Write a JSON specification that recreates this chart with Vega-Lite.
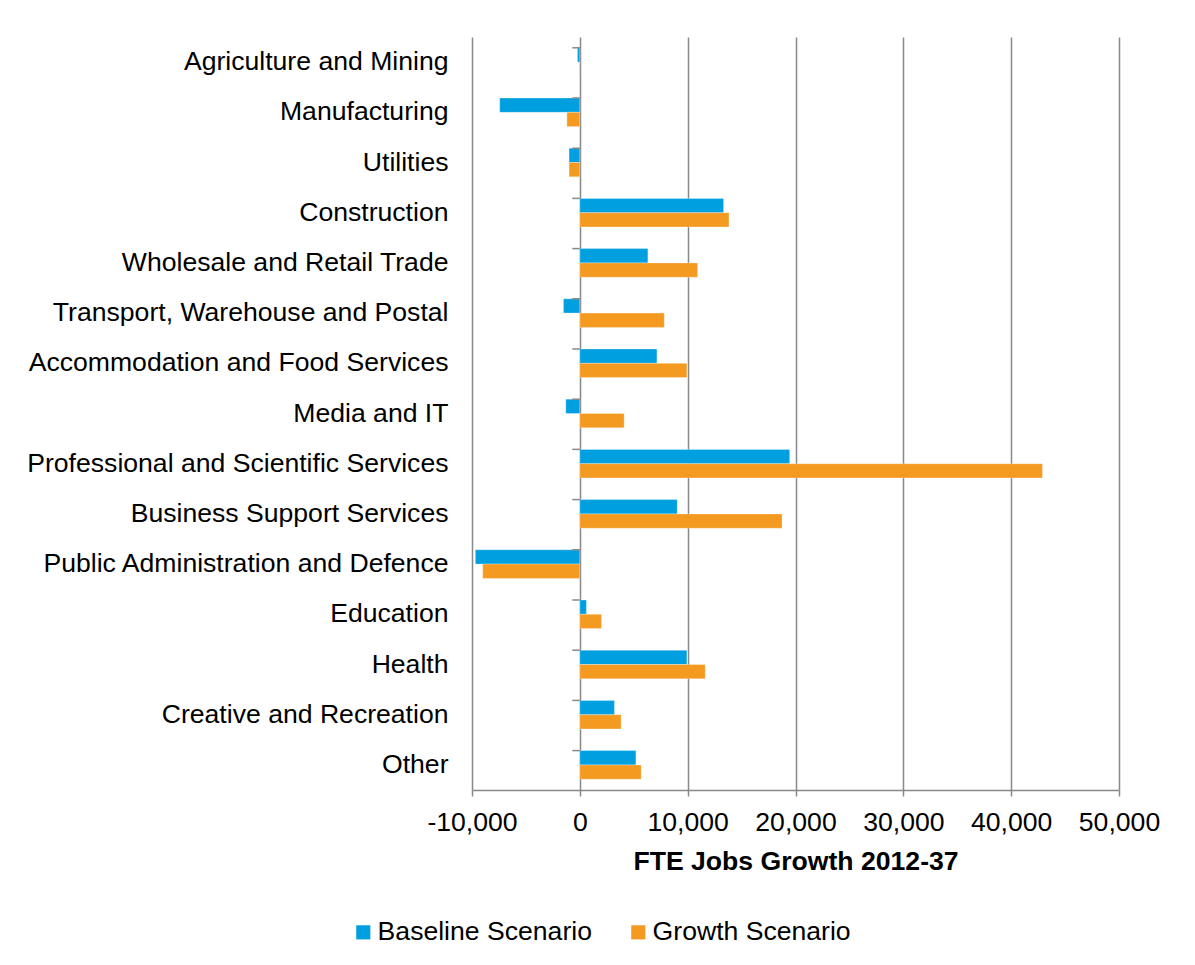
{
  "$schema": "https://vega.github.io/schema/vega-lite/v6.json",
  "width": 647,
  "height": 753,
  "autosize": {"type": "none"},
  "padding": {"left": 472, "top": 37, "right": 76, "bottom": 175},
  "background": "white",
  "config": {
    "font": "Liberation Sans",
    "view": {"stroke": null}
  },
  "datasets": {
    "jobs": [
      {"sector": "Agriculture and Mining", "scenario": "Baseline Scenario", "value": -220},
      {"sector": "Agriculture and Mining", "scenario": "Growth Scenario", "value": -50},
      {"sector": "Manufacturing", "scenario": "Baseline Scenario", "value": -7430},
      {"sector": "Manufacturing", "scenario": "Growth Scenario", "value": -1200},
      {"sector": "Utilities", "scenario": "Baseline Scenario", "value": -1000},
      {"sector": "Utilities", "scenario": "Growth Scenario", "value": -1000},
      {"sector": "Construction", "scenario": "Baseline Scenario", "value": 13330},
      {"sector": "Construction", "scenario": "Growth Scenario", "value": 13830},
      {"sector": "Wholesale and Retail Trade", "scenario": "Baseline Scenario", "value": 6310},
      {"sector": "Wholesale and Retail Trade", "scenario": "Growth Scenario", "value": 10920},
      {"sector": "Transport, Warehouse and Postal", "scenario": "Baseline Scenario", "value": -1520},
      {"sector": "Transport, Warehouse and Postal", "scenario": "Growth Scenario", "value": 7830},
      {"sector": "Accommodation and Food Services", "scenario": "Baseline Scenario", "value": 7150},
      {"sector": "Accommodation and Food Services", "scenario": "Growth Scenario", "value": 9930},
      {"sector": "Media and IT", "scenario": "Baseline Scenario", "value": -1300},
      {"sector": "Media and IT", "scenario": "Growth Scenario", "value": 4110},
      {"sector": "Professional and Scientific Services", "scenario": "Baseline Scenario", "value": 19460},
      {"sector": "Professional and Scientific Services", "scenario": "Growth Scenario", "value": 42900},
      {"sector": "Business Support Services", "scenario": "Baseline Scenario", "value": 9030},
      {"sector": "Business Support Services", "scenario": "Growth Scenario", "value": 18750},
      {"sector": "Public Administration and Defence", "scenario": "Baseline Scenario", "value": -9690},
      {"sector": "Public Administration and Defence", "scenario": "Growth Scenario", "value": -9010},
      {"sector": "Education", "scenario": "Baseline Scenario", "value": 610},
      {"sector": "Education", "scenario": "Growth Scenario", "value": 2010},
      {"sector": "Health", "scenario": "Baseline Scenario", "value": 9930},
      {"sector": "Health", "scenario": "Growth Scenario", "value": 11630},
      {"sector": "Creative and Recreation", "scenario": "Baseline Scenario", "value": 3210},
      {"sector": "Creative and Recreation", "scenario": "Growth Scenario", "value": 3830},
      {"sector": "Other", "scenario": "Baseline Scenario", "value": 5200},
      {"sector": "Other", "scenario": "Growth Scenario", "value": 5690}
    ],
    "sectors": [
      {"sector": "Agriculture and Mining"},
      {"sector": "Manufacturing"},
      {"sector": "Utilities"},
      {"sector": "Construction"},
      {"sector": "Wholesale and Retail Trade"},
      {"sector": "Transport, Warehouse and Postal"},
      {"sector": "Accommodation and Food Services"},
      {"sector": "Media and IT"},
      {"sector": "Professional and Scientific Services"},
      {"sector": "Business Support Services"},
      {"sector": "Public Administration and Defence"},
      {"sector": "Education"},
      {"sector": "Health"},
      {"sector": "Creative and Recreation"},
      {"sector": "Other"}
    ]
  },
  "layer": [
    {
      "data": {"name": "jobs"},
      "mark": {"type": "bar", "stroke": "white", "strokeWidth": 0.5, "strokeOpacity": 0.6},
      "encoding": {
        "y": {
          "field": "sector",
          "type": "nominal",
          "sort": null,
          "scale": {"paddingInner": 0.43, "paddingOuter": 0.215},
          "axis": {
            "title": null,
            "domain": false,
            "ticks": false,
            "grid": false,
            "labelFontSize": 26.6,
            "labelColor": "#000000",
            "labelPadding": 24,
            "labelLimit": 600
          }
        },
        "yOffset": {"field": "scenario", "type": "nominal", "sort": ["Baseline Scenario", "Growth Scenario"]},
        "x": {
          "field": "value",
          "type": "quantitative",
          "scale": {"domain": [-10000, 50000], "nice": false, "zero": false},
          "axis": {
            "values": [-10000, 0, 10000, 20000, 30000, 40000, 50000],
            "labelExpr": "replace(format(datum.value, ',.0f'), '\u2212', '-')",
            "title": "FTE Jobs Growth 2012-37",
            "titleFontSize": 26.6,
            "titleFontWeight": "bold",
            "titleColor": "#000000",
            "titlePadding": 13,
            "labelFontSize": 26.6,
            "labelColor": "#000000",
            "labelPadding": 13,
            "labelFlush": false,
            "labelOverlap": false,
            "grid": true,
            "gridColor": "#888888",
            "gridWidth": 1.5,
            "domainColor": "#888888",
            "domainWidth": 1.5,
            "tickColor": "#888888",
            "tickWidth": 1.5,
            "tickSize": 6
          }
        },
        "color": {
          "field": "scenario",
          "type": "nominal",
          "scale": {"domain": ["Baseline Scenario", "Growth Scenario"], "range": ["#009fdf", "#f49a21"]},
          "legend": {
            "title": null,
            "orient": "none",
            "direction": "horizontal",
            "legendX": -122,
            "legendY": 882,
            "labelFontSize": 26.6,
            "labelColor": "#000000",
            "labelLimit": 500,
            "symbolType": "square",
            "symbolSize": 200,
            "symbolStrokeWidth": 0,
            "labelOffset": 1,
            "columnPadding": 33
          }
        }
      }
    },
    {
      "data": {"name": "sectors"},
      "mark": {"type": "rule", "color": "#888888", "strokeWidth": 1.5},
      "encoding": {
        "y": {"field": "sector", "type": "nominal", "sort": null, "bandPosition": 0},
        "x": {"datum": -700},
        "x2": {"datum": 0}
      }
    }
  ]
}
